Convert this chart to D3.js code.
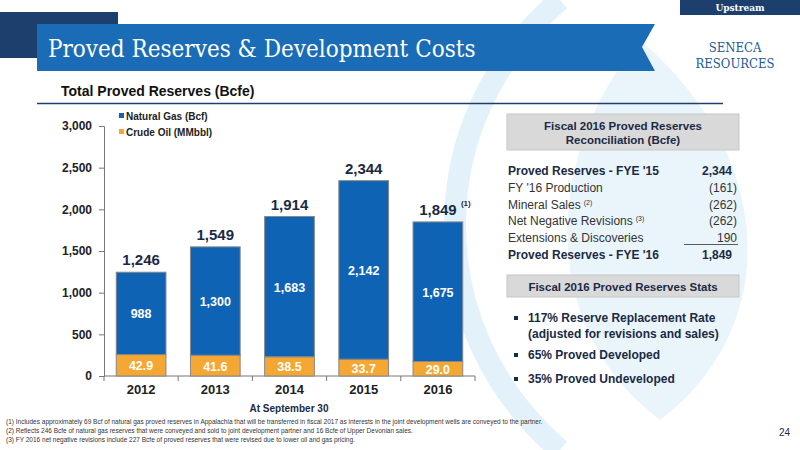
<!DOCTYPE html>
<html><head><meta charset="utf-8">
<script src="https://cdn.jsdelivr.net/npm/d3@7"></script>
<style>body{margin:0;background:#fff}svg{font-family:Arial,"Liberation Sans",sans-serif}</style>
</head><body><div id="chart"></div>
<script>
// data
var years = ["2012", "2013", "2014", "2015", "2016"];
var gas = [988, 1300, 1683, 2142, 1675];        // Bcf
var oil = [42.9, 41.6, 38.5, 33.7, 29.0];       // MMbbl
var totals = [1246, 1549, 1914, 2344, 1849];    // Bcfe
var yTicks = [0, 500, 1000, 1500, 2000, 2500, 3000];
var reconLabels = ["Proved Reserves - FYE '15", "FY '16 Production", "Mineral Sales", "Net Negative Revisions", "Extensions & Discoveries", "Proved Reserves - FYE '16"];
var reconValues = ["2,344", "(161)", "(262)", "(262)", "190", "1,849"];
var reconNotes = ["", "", "(2)", "(3)", "", ""];
var stats = [["117% Reserve Replacement Rate", "(adjusted for revisions and sales)"], ["65% Proved Developed"], ["35% Proved Undeveloped"]];
var footnotes = [
  "(1)   Includes approximately 69 Bcf of natural gas proved reserves in Appalachia that will be transferred in fiscal 2017 as interests in the joint development wells are conveyed to the partner.",
  "(2)   Reflects 246 Bcfe of natural gas reserves that were conveyed and sold to joint development partner and 16 Bcfe of Upper Devonian sales.",
  "(3)   FY 2016 net negative revisions include 227 Bcfe of proved reserves that were revised due to lower oil and gas pricing."
];

var W = 800, H = 450;
var svg = d3.select("#chart").append("svg").attr("width", W).attr("height", H);
var navy = "#1c3f6e", blue = "#0f63b5", orange = "#f5a733";

// background decoration
svg.append("path").attr("d", "M560,0 C420,120 420,330 560,450").attr("fill", "none").attr("stroke", "#e3f2fa").attr("stroke-width", 22);
svg.append("path").attr("d", "M640,40 C540,160 540,330 660,420 C780,330 780,160 640,40Z").attr("fill", "#eaf5fb");

// header
svg.append("rect").attr("x", 680).attr("y", 0).attr("width", 120).attr("height", 15).attr("fill", navy);
svg.append("text").attr("x", 740).attr("y", 11).attr("text-anchor", "middle").attr("fill", "#fff").attr("font-size", 9).attr("font-weight", "bold").attr("font-family", "DejaVu Serif").text("Upstream");
svg.append("path").attr("d", "M0,12 L118,12 L118,58 L0,58Z").attr("fill", navy);
svg.append("path").attr("d", "M37,24 L655,24 L642,47 L655,71 L37,71Z").attr("fill", "#1a6cb7");
svg.append("text").attr("x", 48).attr("y", 57).attr("fill", "#fff").attr("font-size", 24).attr("font-family", "DejaVu Serif Condensed, DejaVu Serif").text("Proved Reserves & Development Costs");
svg.append("text").attr("x", 735).attr("y", 52).attr("text-anchor", "middle").attr("fill", "#1c5a96").attr("font-size", 13).attr("font-family", "DejaVu Serif Condensed").text("SENECA");
svg.append("text").attr("x", 735).attr("y", 68).attr("text-anchor", "middle").attr("fill", "#1c5a96").attr("font-size", 13).attr("font-family", "DejaVu Serif Condensed").text("RESOURCES");
svg.append("text").attr("x", 61).attr("y", 96).attr("fill", "#111").attr("font-size", 14).attr("font-weight", "bold").text("Total Proved Reserves (Bcfe)");
svg.append("line").attr("x1", 37).attr("x2", 723).attr("y1", 103.5).attr("y2", 103.5).attr("stroke", navy).attr("stroke-width", 1.5);

// chart
var x = d3.scaleBand().domain(years).range([104, 475]).paddingInner(0.33).paddingOuter(0.165);
var y = d3.scaleLinear().domain([0, 3000]).range([376, 126]);
var g = svg.append("g");
g.append("g").attr("transform", "translate(104,0)")
  .call(d3.axisLeft(y).tickValues(yTicks).tickFormat(d3.format(",")).tickSize(5))
  .call(function(a){ a.selectAll("text").attr("font-size", 12).attr("font-weight", "bold").attr("fill", "#222").attr("x", -12); a.selectAll("line,path").attr("stroke", "#777"); });
var xAxis = d3.axisBottom(x).tickSize(0).tickPadding(9);
g.append("g").attr("transform", "translate(0,376)").call(xAxis)
  .call(function(a){ a.select(".domain").attr("d", "M104,0H475").attr("stroke", "#777"); a.selectAll("text").attr("font-size", 13).attr("font-weight", "bold").attr("fill", "#222"); });
// between-category ticks
var step = x.step();
g.selectAll(".sep").data(d3.range(years.length + 1)).enter().append("line")
  .attr("x1", function(i){ return 104 + i * step; }).attr("x2", function(i){ return 104 + i * step; })
  .attr("y1", 376).attr("y2", 381).attr("stroke", "#777");

var oilB = oil.map(function(v){ return v * 6; }); // MMbbl -> Bcfe
g.selectAll(".oil").data(years).enter().append("rect")
  .attr("x", function(d){ return x(d); }).attr("width", x.bandwidth())
  .attr("y", function(d, i){ return y(oilB[i]); }).attr("height", function(d, i){ return y(0) - y(oilB[i]); })
  .attr("fill", orange).attr("stroke", "#888").attr("stroke-width", 1);
g.selectAll(".gas").data(years).enter().append("rect")
  .attr("x", function(d){ return x(d); }).attr("width", x.bandwidth())
  .attr("y", function(d, i){ return y(oilB[i] + gas[i]); }).attr("height", function(d, i){ return y(oilB[i]) - y(oilB[i] + gas[i]); })
  .attr("fill", blue).attr("stroke", "#888").attr("stroke-width", 1);
var cx = function(d){ return x(d) + x.bandwidth() / 2; };
g.selectAll(".oilL").data(years).enter().append("text").attr("x", cx)
  .attr("y", function(d, i){ return y(oilB[i] / 2) + 5; }).attr("text-anchor", "middle").attr("fill", "#fff").attr("font-size", 12.5).attr("font-weight", "bold")
  .text(function(d, i){ return oil[i].toFixed(1); });
g.selectAll(".gasL").data(years).enter().append("text").attr("x", cx)
  .attr("y", function(d, i){ return y(oilB[i] + gas[i] / 2) + 5; }).attr("text-anchor", "middle").attr("fill", "#fff").attr("font-size", 12.5).attr("font-weight", "bold")
  .text(function(d, i){ return d3.format(",")(gas[i]); });
g.selectAll(".totL").data(years).enter().append("text").attr("x", cx)
  .attr("y", function(d, i){ return y(totals[i]) - 7; }).attr("text-anchor", "middle").attr("fill", "#1a2a44").attr("font-size", 15).attr("font-weight", "bold")
  .text(function(d, i){ return d3.format(",")(totals[i]); });
svg.append("text").attr("x", cx("2016") + 23).attr("y", y(totals[4]) - 16).attr("font-size", 8).attr("font-weight", "bold").attr("fill", "#1a2a44").text("(1)");
svg.append("text").attr("x", 289).attr("y", 412).attr("text-anchor", "middle").attr("font-size", 10).attr("font-weight", "bold").attr("fill", "#1a2a44").text("At September 30");

// legend
[["Natural Gas (Bcf)", blue], ["Crude Oil (MMbbl)", orange]].forEach(function(l, i){
  svg.append("rect").attr("x", 119).attr("y", 113 + i * 16).attr("width", 5).attr("height", 5).attr("fill", l[1]);
  svg.append("text").attr("x", 126).attr("y", 119.5 + i * 16).attr("font-size", 10).attr("font-weight", "bold").attr("fill", "#222").text(l[0]);
});

// right panel
function panelHead(y0, h, lines){
  svg.append("rect").attr("x", 507).attr("y", y0).attr("width", 232).attr("height", h).attr("fill", "#d9d9d9").attr("stroke", "#c6c6c6");
  lines.forEach(function(t, i){
    svg.append("text").attr("x", 623).attr("y", y0 + 16 + i * 14).attr("text-anchor", "middle").attr("font-size", 11.5).attr("font-weight", "bold").attr("fill", "#1a2a44").text(t);
  });
}
panelHead(114, 36, ["Fiscal 2016 Proved Reserves", "Reconciliation (Bcfe)"]);
reconLabels.forEach(function(t, i){
  var bold = i === 0 || i === 5, yy = 175 + i * 16.8;
  var tx = svg.append("text").attr("x", 508).attr("y", yy).attr("font-size", 12).attr("font-weight", bold ? "bold" : "normal").attr("fill", bold ? "#1a2a44" : "#333").text(t);
  if (reconNotes[i]) tx.append("tspan").attr("dx", 3).attr("dy", -4).attr("font-size", 7).text(reconNotes[i]);
  svg.append("text").attr("x", bold ? 732 : 737).attr("y", yy).attr("text-anchor", "end").attr("font-size", 12).attr("font-weight", bold ? "bold" : "normal").attr("fill", bold ? "#1a2a44" : "#333").text(reconValues[i]);
});
svg.append("line").attr("x1", 684).attr("x2", 738).attr("y1", 244.5).attr("y2", 244.5).attr("stroke", "#333").attr("stroke-width", 0.8);
panelHead(275, 22, ["Fiscal 2016 Proved Reserves Stats"]);
var sy = [322, 359, 383];
stats.forEach(function(s, i){
  svg.append("rect").attr("x", 514).attr("y", sy[i] - 6).attr("width", 4).attr("height", 4).attr("fill", "#1a2a44");
  s.forEach(function(t, j){
    svg.append("text").attr("x", 528).attr("y", sy[i] + j * 16).attr("font-size", 12).attr("font-weight", "bold").attr("fill", "#1a2a44").text(t);
  });
});

// footnotes
footnotes.forEach(function(t, i){
  svg.append("text").attr("x", 6).attr("y", 424 + i * 9).attr("font-size", 6.5).attr("fill", "#333").text(t);
});
svg.append("text").attr("x", 790).attr("y", 436).attr("text-anchor", "end").attr("font-size", 10).attr("fill", "#1a2a44").text("24");
</script></body></html>
